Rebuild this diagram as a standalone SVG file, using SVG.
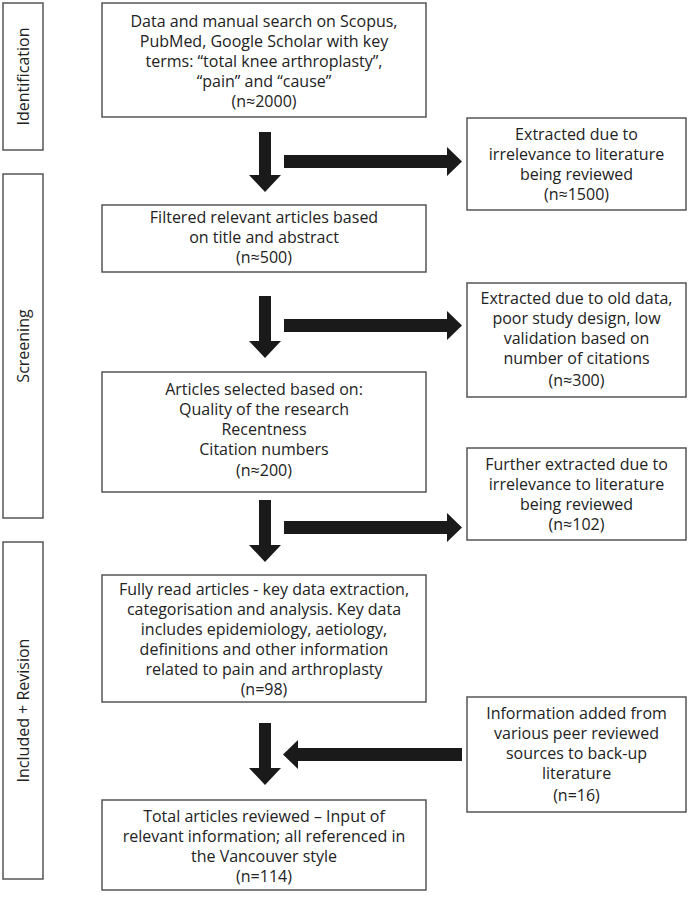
<svg xmlns="http://www.w3.org/2000/svg" width="689" height="898" viewBox="0 0 689 898">
<style>
.box{fill:#fff;stroke:#555;stroke-width:1.5}
.t{font-family:"Open Sans","Noto Sans",sans-serif;font-size:16px;fill:#222;text-anchor:middle}
.arr{fill:#1a1a1a}
</style>
<rect width="689" height="898" fill="#fff"/>
<g id="phase-identification"><rect class="box" x="3" y="3" width="40" height="147"/><text class="t" transform="translate(29,76.5) rotate(-90)">Identification</text></g>
<g id="phase-screening"><rect class="box" x="3" y="174" width="40" height="344"/><text class="t" transform="translate(29,346) rotate(-90)">Screening</text></g>
<g id="phase-included"><rect class="box" x="3" y="542" width="40" height="337"/><text class="t" transform="translate(29,710.5) rotate(-90)">Included + Revision</text></g>

<g id="n1"><rect class="box" x="102" y="3" width="324" height="114"/>
<text class="t" x="264" y="27">Data and manual search on Scopus,</text>
<text class="t" x="264" y="47">PubMed, Google Scholar with key</text>
<text class="t" x="264" y="67">terms: “total knee arthroplasty”,</text>
<text class="t" x="264" y="87">“pain” and “cause”</text>
<text class="t" x="264" y="107">(n≈2000)</text></g>

<g id="n1x"><rect class="box" x="467" y="118" width="219" height="92"/>
<text class="t" x="576.5" y="140">Extracted due to</text>
<text class="t" x="576.5" y="160">irrelevance to literature</text>
<text class="t" x="576.5" y="180">being reviewed</text>
<text class="t" x="576.5" y="200">(n≈1500)</text></g>

<g id="n2"><rect class="box" x="102" y="205" width="324" height="67"/>
<text class="t" x="264" y="223">Filtered relevant articles based</text>
<text class="t" x="264" y="243">on title and abstract</text>
<text class="t" x="264" y="263">(n≈500)</text></g>

<g id="n2x"><rect class="box" x="467" y="283" width="219" height="114"/>
<text class="t" x="576.5" y="304">Extracted due to old data,</text>
<text class="t" x="576.5" y="324">poor study design, low</text>
<text class="t" x="576.5" y="344">validation based on</text>
<text class="t" x="576.5" y="364">number of citations</text>
<text class="t" x="576.5" y="386">(n≈300)</text></g>

<g id="n3"><rect class="box" x="102" y="372" width="324" height="120"/>
<text class="t" x="264" y="395">Articles selected based on:</text>
<text class="t" x="264" y="415">Quality of the research</text>
<text class="t" x="264" y="435">Recentness</text>
<text class="t" x="264" y="455">Citation numbers</text>
<text class="t" x="264" y="476">(n≈200)</text></g>

<g id="n3x"><rect class="box" x="467" y="448" width="219" height="92"/>
<text class="t" x="576.5" y="470">Further extracted due to</text>
<text class="t" x="576.5" y="490">irrelevance to literature</text>
<text class="t" x="576.5" y="510">being reviewed</text>
<text class="t" x="576.5" y="530">(n≈102)</text></g>

<g id="n4"><rect class="box" x="102" y="575" width="324" height="127"/>
<text class="t" x="264" y="595">Fully read articles - key data extraction,</text>
<text class="t" x="264" y="615">categorisation and analysis. Key data</text>
<text class="t" x="264" y="635">includes epidemiology, aetiology,</text>
<text class="t" x="264" y="655">definitions and other information</text>
<text class="t" x="264" y="675">related to pain and arthroplasty</text>
<text class="t" x="264" y="695">(n=98)</text></g>

<g id="n4x"><rect class="box" x="467" y="697" width="219" height="115"/>
<text class="t" x="576.5" y="719">Information added from</text>
<text class="t" x="576.5" y="739">various peer reviewed</text>
<text class="t" x="576.5" y="759">sources to back-up</text>
<text class="t" x="576.5" y="779">literature</text>
<text class="t" x="576.5" y="801">(n=16)</text></g>

<g id="n5"><rect class="box" x="102" y="800" width="324" height="90"/>
<text class="t" x="264" y="822">Total articles reviewed – Input of</text>
<text class="t" x="264" y="842">relevant information; all referenced in</text>
<text class="t" x="264" y="862">the Vancouver style</text>
<text class="t" x="264" y="882">(n=114)</text></g>

<g id="connectors" class="arr">
<path d="M259,132 H271 V175 H281 L265,192 L249,175 H259 Z"/>
<path d="M284,155 H447 V147 L462,161.5 L447,176 V168 H284 Z"/>
<path d="M259,296 H271 V341 H281 L265,358 L249,341 H259 Z"/>
<path d="M284,319 H447 V311 L462,325.5 L447,340 V332 H284 Z"/>
<path d="M259,500 H271 V545 H281 L265,562 L249,545 H259 Z"/>
<path d="M284,521 H447 V513 L462,527.5 L447,542 V534 H284 Z"/>
<path d="M259,723 H271 V768 H281 L265,785 L249,768 H259 Z"/>
<path d="M462,748 H298 V740 L283,754.5 L298,769 V761 H462 Z"/>
</g>
</svg>
